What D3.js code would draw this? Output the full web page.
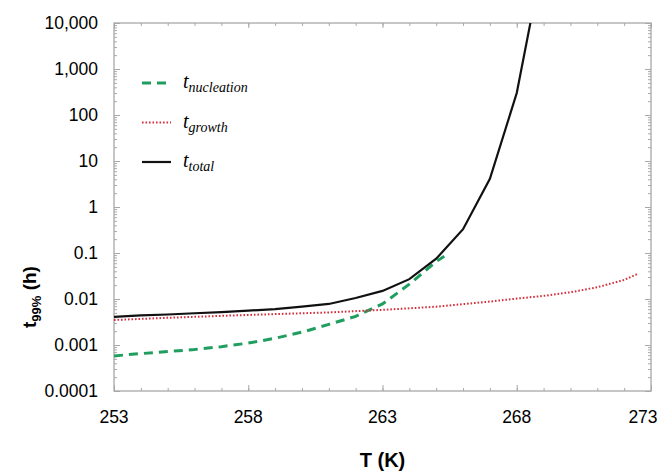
<!DOCTYPE html>
<html>
<head>
<meta charset="utf-8">
<script src="https://cdn.jsdelivr.net/npm/d3@7"></script>
<style>
  body { margin: 0; background: #fff; }
  svg { display: block; }
</style>
</head>
<body>
<script>
const width = 657;
const height = 475;

// data
const tempNucleation = [253, 254, 255, 256, 257, 258, 259, 260, 261, 262, 263, 264, 265, 265.3];
const tNucleation = [0.00058, 0.00065, 0.00072, 0.0008, 0.00092, 0.0011, 0.0014, 0.0019, 0.0028, 0.0042, 0.0078, 0.021, 0.065, 0.085];

const tempGrowth = [253, 255, 257, 259, 261, 263, 265, 267, 268, 269, 270, 271, 272, 272.5];
const tGrowth = [0.0035, 0.0039, 0.0043, 0.0047, 0.0051, 0.0058, 0.0068, 0.0088, 0.0102, 0.0117, 0.014, 0.018, 0.026, 0.035];

const tempTotal = [253, 254, 255, 256, 257, 258, 259, 260, 261, 262, 263, 264, 265, 266, 267, 268, 269];
const tTotal = [0.0041, 0.0044, 0.0046, 0.0049, 0.0052, 0.0056, 0.006, 0.0068, 0.0078, 0.0105, 0.015, 0.027, 0.075, 0.33, 4.1, 300, 300000];

const xTicks = [253, 258, 263, 268, 273];
const yTicks = [10000, 1000, 100, 10, 1, 0.1, 0.01, 0.001, 0.0001];
const yTickLabels = ["10,000", "1,000", "100", "10", "1", "0.1", "0.01", "0.001", "0.0001"];

const margin = { top: 23, right: 6, bottom: 84, left: 114 };
const iw = width - margin.left - margin.right;
const ih = height - margin.top - margin.bottom;

const svg = d3.select("body")
    .append("svg")
    .attr("width", width)
    .attr("height", height);

const x = d3.scaleLinear().domain([253, 273]).range([0, iw]);
const y = d3.scaleLog().domain([0.0001, 10000]).range([ih, 0]);

const g = svg.append("g")
    .attr("transform", `translate(${margin.left},${margin.top})`);

svg.append("defs").append("clipPath")
    .attr("id", "plotclip")
    .append("rect")
    .attr("width", iw)
    .attr("height", ih);

// minor / major tick positions
const xMinor = d3.range(253, 274, 1);
const yMinor = [];
for (let e = -4; e < 4; e++) {
    for (let m = 1; m < 10; m++) yMinor.push(m * Math.pow(10, e));
}
yMinor.push(10000);

const axisColor = "#a8a8a8";

// 枠の目盛り（内向き）
function frameAxis(axisFn, scale, ticks, size, transform) {
    g.append("g")
        .attr("transform", transform)
        .call(axisFn(scale).tickValues(ticks).tickSize(size).tickFormat(""))
        .call(a => a.select(".domain").remove())
        .call(a => a.selectAll("line").attr("stroke", axisColor));
}

frameAxis(d3.axisTop, x, xMinor, 3, `translate(0,${ih})`);
frameAxis(d3.axisTop, x, xTicks, 6, `translate(0,${ih})`);
frameAxis(d3.axisBottom, x, xMinor, 3, "translate(0,0)");
frameAxis(d3.axisBottom, x, xTicks, 5, "translate(0,0)");
frameAxis(d3.axisRight, y, yMinor, 3, "translate(0,0)");
frameAxis(d3.axisRight, y, yTicks, 6, "translate(0,0)");
frameAxis(d3.axisLeft, y, yMinor, 3, `translate(${iw},0)`);
frameAxis(d3.axisLeft, y, yTicks, 6, `translate(${iw},0)`);

g.append("rect")
    .attr("width", iw)
    .attr("height", ih)
    .attr("fill", "none")
    .attr("stroke", axisColor)
    .attr("stroke-width", 1.3);

// tick labels
g.append("g")
    .selectAll("text")
    .data(xTicks)
    .enter()
    .append("text")
    .attr("x", (d, i) => x(d) - (i === xTicks.length - 1 ? 8 : 0))
    .attr("y", ih + 32)
    .attr("text-anchor", "middle")
    .attr("font-family", "Liberation Sans, Arial, sans-serif")
    .attr("font-size", 17.5)
    .text(d => d);

g.append("g")
    .selectAll("text")
    .data(yTicks)
    .enter()
    .append("text")
    .attr("x", -16)
    .attr("y", d => y(d) + 6)
    .attr("text-anchor", "end")
    .attr("font-family", "Liberation Sans, Arial, sans-serif")
    .attr("font-size", 17.5)
    .text((d, i) => yTickLabels[i]);

// axis titles
svg.append("text")
    .attr("x", margin.left + iw / 2)
    .attr("y", 467)
    .attr("text-anchor", "middle")
    .attr("font-family", "Liberation Sans, Arial, sans-serif")
    .attr("font-weight", "bold")
    .attr("font-size", 20)
    .text("T (K)");

const yTitle = svg.append("text")
    .attr("transform", "translate(36,297) rotate(-90)")
    .attr("text-anchor", "middle")
    .attr("font-family", "Liberation Sans, Arial, sans-serif")
    .attr("font-weight", "bold")
    .attr("font-size", 19);
yTitle.append("tspan").text("t");
yTitle.append("tspan").attr("font-size", 13).attr("dy", 5).text("99%");
yTitle.append("tspan").attr("dy", -5).text(" (h)");

// series
const series = [
    { name: "nucleation", temps: tempNucleation, vals: tNucleation, color: "#1f9e5f", width: 3, dash: "9,6" },
    { name: "growth", temps: tempGrowth, vals: tGrowth, color: "#d4303c", width: 2, dash: "1.6,1.9" },
    { name: "total", temps: tempTotal, vals: tTotal, color: "#111", width: 2.2, dash: null }
];

const line = d3.line()
    .x(d => x(d[0]))
    .y(d => y(d[1]));

const plot = g.append("g").attr("clip-path", "url(#plotclip)");

plot.selectAll("path")
    .data(series)
    .enter()
    .append("path")
    .attr("d", s => line(s.temps.map((t, i) => [t, s.vals[i]])))
    .attr("fill", "none")
    .attr("stroke", s => s.color)
    .attr("stroke-width", s => s.width)
    .attr("stroke-dasharray", s => s.dash);

// legend
const legend = svg.append("g").attr("transform", "translate(142,83)");
const leg = legend.selectAll("g")
    .data(series)
    .enter()
    .append("g")
    .attr("transform", (d, i) => `translate(0,${i * 39.5})`);

leg.append("line")
    .attr("x1", 0)
    .attr("x2", 29)
    .attr("stroke", s => s.color)
    .attr("stroke-width", s => s.width)
    .attr("stroke-dasharray", s => s.dash);

const legText = leg.append("text")
    .attr("x", 41)
    .attr("y", 5)
    .attr("font-family", "Liberation Serif, Times New Roman, serif")
    .attr("font-style", "italic")
    .attr("font-size", 20);
legText.append("tspan").text("t");
legText.append("tspan")
    .attr("font-size", 14)
    .attr("dy", 4)
    .text(s => s.name);
</script>
</body>
</html>
